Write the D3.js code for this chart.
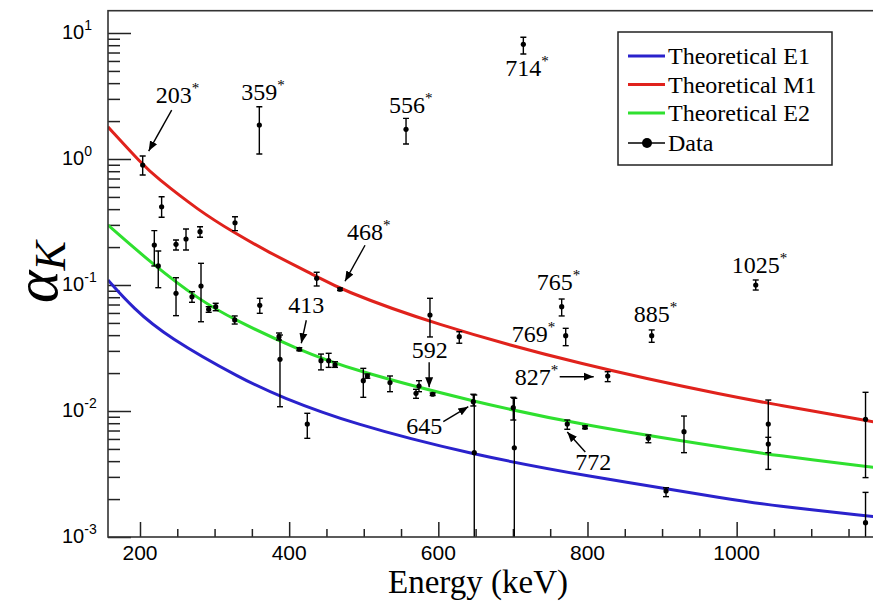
<!DOCTYPE html>
<html lang="en">
<head>
<meta charset="utf-8">
<title>K-shell conversion coefficients</title>
<script src="https://d3js.org/d3.v7.min.js"></script>
<style>
  body { margin: 0; background: #fff; }
  .serif { font-family: "Liberation Serif", "Times New Roman", serif; }
  .sans { font-family: "Liberation Sans", Arial, sans-serif; }
</style>
</head>
<body>
<svg width="873" height="603"></svg>
<script>
// measured points (keV, alpha_K, upper and lower end of error bar)
const energy = [203.6, 229, 219.2, 224.5, 248.3, 261.7, 280.5, 248.3, 269.7, 281.8,
  292.1, 301.5, 327.4, 327.0, 360.0, 360.6, 386.4, 387.7, 413.6, 424.3,
  436.9, 442.7, 453.0, 461.5, 468.2, 499.4, 504.8, 535.2, 556.7, 570.1,
  574.1, 588.8, 592.4, 628.1, 646.9, 648.2, 700.5, 701.9, 714.0, 765.4,
  770.8, 772.9, 796.7, 827.1, 881.6, 886.1, 905.3, 929.4, 1025.6, 1042.4,
  1042.4, 1172.8, 1172.8];
const alphaK = [0.895, 0.418, 0.2075, 0.1416, 0.2104, 0.2317, 0.265, 0.0859, 0.0807, 0.0982,
  0.0641, 0.0673, 0.312, 0.0528, 1.862, 0.0690, 0.0389, 0.0257, 0.0309, 0.00788,
  0.1130, 0.0251, 0.0251, 0.0232, 0.0925, 0.0174, 0.01896, 0.0168, 1.72, 0.01381,
  0.01579, 0.0578, 0.01358, 0.0389, 0.01186, 0.00467, 0.01062, 0.00511, 8.13, 0.0673,
  0.0396, 0.00788, 0.00742, 0.01896, 0.00607, 0.0396, 0.00232, 0.00685, 0.100, 0.00788,
  0.00547, 0.00859, 0.0013];
const upper = [1.056, 0.502, 0.270, 0.1862, 0.2276, 0.278, 0.290, 0.1143, 0.0885, 0.1486,
  0.0673, 0.0716, 0.348, 0.0568, 2.60, 0.0784, 0.0416, 0.0401, 0.0318, 0.00959,
  0.1262, 0.0283, 0.0287, 0.0246, 0.0946, 0.0218, 0.01966, 0.01896, 2.10, 0.01486,
  0.0174, 0.0784, 0.01389, 0.0426, 0.01358, 0.0134, 0.01284, 0.01261, 9.24, 0.0774,
  0.0453, 0.00848, 0.00763, 0.0205, 0.00645, 0.0440, 0.00246, 0.00912, 0.1096, 0.01222,
  0.00618, 0.01407, 0.00226];
const lower = [0.746, 0.345, 0.1416, 0.0952, 0.1896, 0.1896, 0.239, 0.0571, 0.0729, 0.0511,
  0.0607, 0.0625, 0.270, 0.0490, 1.096, 0.0596, 0.0366, 0.01081, 0.0301, 0.00607,
  0.0982, 0.0212, 0.0222, 0.0222, 0.0904, 0.01284, 0.0182, 0.01423, 1.315, 0.01261,
  0.01423, 0.0387, 0.01328, 0.0345, 0.01096, 0.0005, 0.00848, 0.0005, 6.81, 0.0568,
  0.0330, 0.00716, 0.00723, 0.0171, 0.00560, 0.0351, 0.00209, 0.00467, 0.0912, 0.00344,
  0.00467, 0.00296, 0.0005];

// theoretical curves
const e1Energy = [157, 191, 236, 339, 388, 482, 647, 791, 1004, 1043, 1184];
const e1Alpha = [0.1096, 0.0653, 0.0389, 0.01762, 0.0130, 0.00798, 0.00448, 0.0031, 0.00194, 0.00179, 0.00145];
const m1Energy = [157, 204, 220, 280, 325, 370, 437, 468, 589, 791, 1004, 1043, 1184];
const m1Alpha = [1.80, 0.895, 0.73, 0.385, 0.263, 0.185, 0.117, 0.0925, 0.0499, 0.0232, 0.0126, 0.01156, 0.0082];
const e2Energy = [157, 218, 280, 325, 413, 482, 647, 791, 1004, 1043, 1184];
const e2Alpha = [0.299, 0.1443, 0.0760, 0.0535, 0.0305, 0.0214, 0.01185, 0.00774, 0.0049, 0.00453, 0.00357];

const xTicks = [200, 400, 600, 800, 1000];
const yDecades = [-3, -2, -1, 0, 1];

// transition labels: point they refer to, text offset, optional arrow (from dx,dy to dx,dy)
const labels = [
  {text: "203", star: true, e: 203.6, v: 0.895, tx: 13, ty: -62, arrow: [29, -55, 6, -14]},
  {text: "359", star: true, e: 360.0, v: 1.862, tx: -18, ty: -25},
  {text: "556", star: true, e: 556.7, v: 1.72, tx: -17, ty: -16},
  {text: "714", star: true, e: 714.0, v: 8.13, tx: -18, ty: 32},
  {text: "468", star: true, e: 468.2, v: 0.0925, tx: 7, ty: -49, arrow: [25, -44, 5, -8]},
  {text: "413", star: false, e: 413.6, v: 0.0309, tx: -11, ty: -36, arrow: [7, -29, 2, -6]},
  {text: "592", star: false, e: 592.4, v: 0.01358, tx: -21, ty: -36, arrow: [-3.5, -32, -3.5, -7]},
  {text: "765", star: true, e: 765.4, v: 0.0673, tx: -25, ty: -17},
  {text: "769", star: true, e: 770.8, v: 0.0396, tx: -54, ty: 6},
  {text: "827", star: true, e: 827.1, v: 0.01896, tx: -93, ty: 9, arrow: [-48, 0.7, -14, 0.7]},
  {text: "645", star: false, e: 646.9, v: 0.01186, tx: -67, ty: 32, arrow: [-30, 20, -5, 5]},
  {text: "772", star: false, e: 772.9, v: 0.00788, tx: 8, ty: 46, arrow: [18, 28, 0, 8]},
  {text: "885", star: true, e: 886.1, v: 0.0396, tx: -18, ty: -14},
  {text: "1025", star: true, e: 1025.6, v: 0.100, tx: -24, ty: -12}
];

const legendNames = ["Theoretical E1", "Theoretical M1", "Theoretical E2", "Data"];
const colE1 = "#2a22cc", colM1 = "#e0221c", colE2 = "#2fe02f";

const padLeft = 108, padTop = 10.7, padBottom = 537, padRight = 880;
const svg = d3.select("svg");

const x = d3.scaleLinear().domain([157.1, 1192.2]).range([padLeft, padRight]);
const y = d3.scaleLog().domain([1e-3, 15.03]).range([padBottom, padTop]);

const defs = svg.append("defs");
defs.append("clipPath").attr("id", "plot")
  .append("rect").attr("x", padLeft).attr("y", padTop)
  .attr("width", padRight - padLeft).attr("height", padBottom - padTop);

defs.append("marker")
  .attr("id", "head").attr("viewBox", "0 0 10 10")
  .attr("refX", 10).attr("refY", 5)
  .attr("markerWidth", 10).attr("markerHeight", 10)
  .attr("markerUnits", "userSpaceOnUse")
  .attr("orient", "auto")
  .append("path").attr("d", "M0,1 L10,5 L0,9 Z").attr("fill", "#000");

// ticks on left axis (inward)
const minorY = [];
yDecades.forEach(k => { for (let m = 2; m <= 9; m++) { const v = m * Math.pow(10, k); if (v < 15) minorY.push(v); } });
const yMajor = yDecades.map(k => Math.pow(10, k));

const yAxisMajor = svg.append("g").attr("transform", `translate(${padLeft},0)`)
  .call(d3.axisRight(y).tickValues(yMajor).tickSize(23).tickFormat(""));
const yAxisMinor = svg.append("g").attr("transform", `translate(${padLeft},0)`)
  .call(d3.axisRight(y).tickValues(minorY).tickSize(12).tickFormat(""));

const minorX = d3.range(200, 1200, 50).filter(v => v % 200 !== 0);
const xAxisMajor = svg.append("g").attr("transform", `translate(0,${padBottom})`)
  .call(d3.axisTop(x).tickValues(xTicks).tickSize(15).tickFormat(""));
const xAxisMinor = svg.append("g").attr("transform", `translate(0,${padBottom})`)
  .call(d3.axisTop(x).tickValues(minorX).tickSize(8).tickFormat(""));

[yAxisMajor, yAxisMinor, xAxisMajor, xAxisMinor].forEach(g => {
  g.select(".domain").remove();
  g.selectAll("line").attr("stroke", "#222").attr("stroke-width", 1.5);
});

// tick labels
svg.append("g").selectAll("text").data(xTicks).enter().append("text")
  .attr("class", "sans").attr("x", d => x(d)).attr("y", 560)
  .attr("text-anchor", "middle").attr("font-size", 21).text(d => d);

const yl = svg.append("g").selectAll("text").data(yDecades).enter().append("text")
  .attr("class", "sans").attr("x", 62).attr("y", d => y(Math.pow(10, d)) + 6)
  .attr("font-size", 20);
yl.append("tspan").text("10");
yl.append("tspan").attr("dy", -9).attr("font-size", 14).text(d => d);

// axis titles
svg.append("text").attr("class", "serif")
  .attr("x", 478).attr("y", 593).attr("text-anchor", "middle")
  .attr("font-size", 33).text("Energy (keV)");

const yt = svg.append("text").attr("class", "serif")
  .attr("transform", "translate(57,272) rotate(-90)")
  .attr("text-anchor", "middle").attr("font-style", "italic");
yt.append("tspan").attr("font-size", 62).text("\u03b1");
yt.append("tspan").attr("font-size", 44).attr("dy", 8).text("K");

// curves
const plot = svg.append("g").attr("clip-path", "url(#plot)");
const line = d3.line().x(d => x(d[0])).y(d => y(d[1])).curve(d3.curveBasis);
const curves = [
  {e: e1Energy, v: e1Alpha, c: colE1},
  {e: m1Energy, v: m1Alpha, c: colM1},
  {e: e2Energy, v: e2Alpha, c: colE2}
];
curves.forEach(cv => {
  plot.append("path").attr("d", line(cv.e.map((d, i) => [d, cv.v[i]])))
    .attr("fill", "none").attr("stroke", cv.c).attr("stroke-width", 3);
});

// data with error bars
const pts = energy.map((e, i) => ({e: e, v: alphaK[i], hi: upper[i], lo: lower[i]}));
const cap = 3;
const bars = plot.append("g").attr("stroke", "#000").attr("stroke-width", 1.4);
pts.forEach(p => {
  const px = x(p.e);
  bars.append("line").attr("x1", px).attr("x2", px).attr("y1", y(p.hi)).attr("y2", y(p.lo));
  bars.append("line").attr("x1", px - cap).attr("x2", px + cap).attr("y1", y(p.hi)).attr("y2", y(p.hi));
  bars.append("line").attr("x1", px - cap).attr("x2", px + cap).attr("y1", y(p.lo)).attr("y2", y(p.lo));
});
plot.append("g").selectAll("circle").data(pts).enter().append("circle")
  .attr("cx", d => x(d.e)).attr("cy", d => y(d.v)).attr("r", 2.6).attr("fill", "#000");

// annotations
const ann = svg.append("g").attr("class", "serif");
labels.forEach(l => {
  const px = x(l.e), py = y(l.v);
  const t = ann.append("text").attr("x", px + l.tx).attr("y", py + l.ty).attr("font-size", 24);
  t.append("tspan").text(l.text);
  if (l.star) t.append("tspan").attr("dy", -10).attr("font-size", 15).text("*");
  if (l.arrow) {
    ann.append("line")
      .attr("x1", px + l.arrow[0]).attr("y1", py + l.arrow[1])
      .attr("x2", px + l.arrow[2]).attr("y2", py + l.arrow[3])
      .attr("stroke", "#000").attr("stroke-width", 1.4)
      .attr("marker-end", "url(#head)");
  }
});

// frame
svg.append("rect").attr("x", padLeft).attr("y", padTop)
  .attr("width", padRight - padLeft).attr("height", padBottom - padTop)
  .attr("fill", "none").attr("stroke", "#333").attr("stroke-width", 1.6);

// legend
const lg = svg.append("g").attr("transform", "translate(618,32)");
lg.append("rect").attr("width", 214).attr("height", 133)
  .attr("fill", "#fff").attr("stroke", "#222").attr("stroke-width", 1.5);
const rowY = [24, 52.5, 81, 111];
const legCols = [colE1, colM1, colE2, "#000"];
legendNames.forEach((name, i) => {
  lg.append("line").attr("x1", 10).attr("x2", 47).attr("y1", rowY[i]).attr("y2", rowY[i])
    .attr("stroke", legCols[i]).attr("stroke-width", i < 3 ? 3 : 1.4);
  if (i === 3) lg.append("circle").attr("cx", 29).attr("cy", rowY[i]).attr("r", 5).attr("fill", "#000");
  lg.append("text").attr("class", "serif").attr("x", 50).attr("y", rowY[i] + 8)
    .attr("font-size", 24).text(name);
});
</script>
</body>
</html>
